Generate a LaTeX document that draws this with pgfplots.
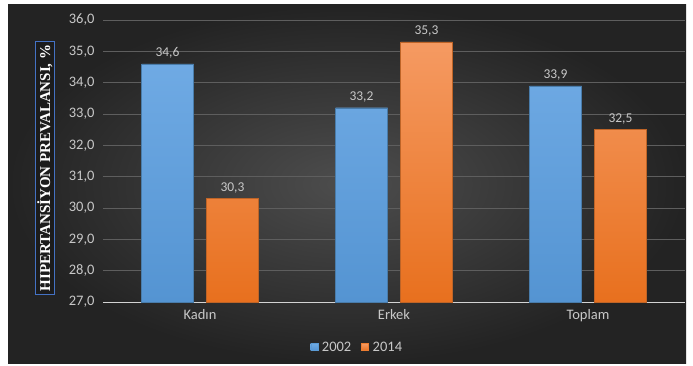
\documentclass[border=0pt]{standalone}
\usepackage{fontspec}
\setmainfont{Carlito}
\newfontfamily\serifb{Liberation Serif}
\usepackage{pgfplots}
\pgfplotsset{compat=1.18}
\definecolor{bgin}{HTML}{4D4D4D}
\definecolor{bgout}{HTML}{232323}
\definecolor{txt}{HTML}{C8C8C8}
\definecolor{gridc}{HTML}{5E5E5E}
\definecolor{bluetop}{HTML}{6FAAE4}
\definecolor{bluebot}{HTML}{5494D2}
\definecolor{orgtop}{HTML}{F59A62}
\definecolor{orgbot}{HTML}{E8701E}
\definecolor{c2002}{HTML}{5B9BD5}
\definecolor{c2014}{HTML}{ED7D31}
\definecolor{boxc}{HTML}{4472C4}
\begin{document}
\begin{tikzpicture}[x=1pt,y=1pt]
\fill[white] (0,0) rectangle (693,365);
\shade[inner color=bgin, outer color=bgout] (8,2) rectangle (686,360);
\begin{axis}[
  at={(103pt,63pt)}, anchor=south west,
  scale only axis, width=582pt, height=282pt,
  ymin=27, ymax=36, ytick={27,28,...,36},
  xmin=-0.5, xmax=2.5, xtick=data,
  xticklabels={Kadın,Erkek,Toplam},
  ybar=13pt, bar width=52pt,
  axis x line*=bottom, axis y line*=left,
  x axis line style={draw=txt!80, line width=0.8pt},
  y axis line style={draw=none},
  ymajorgrids, grid style={gridc, line width=0.6pt},
  major tick length=0pt,
  tick label style={font=\fontsize{14.5}{16}\selectfont, text=txt},
  xticklabel style={yshift=-4pt},
  /pgf/number format/.cd, use comma, fixed, fixed zerofill, precision=1, assume math mode=true,
  /pgfplots/.cd,
  yticklabel style={xshift=-5pt},
  nodes near coords,
  every node near coord/.append style={font=\fontsize{13.5}{15}\selectfont, text=txt, yshift=2pt,
    /pgf/number format/.cd, use comma, fixed, fixed zerofill, precision=1, assume math mode=true},
  ylabel={\serifb\bfseries HIPERTANSİYON PREVALANSI, \%},
  ylabel style={at={(axis description cs:-0.1,0.475)}, anchor=center, rotate=0,
    draw=boxc, line width=1pt, text=white, fill=bgout!80!black, font=\fontsize{15}{17}\selectfont, inner xsep=3pt, inner ysep=2pt},
  legend style={at={(0.437,-0.16)}, anchor=center, draw=none, fill=none,
    text=txt, font=\fontsize{14.5}{16}\selectfont, legend columns=2,
    /tikz/column 1/.style={column sep=2pt},
    /tikz/column 2/.style={column sep=8pt},
    /tikz/column 3/.style={column sep=2pt}},
  legend cell align=left,
]
\addplot[draw=c2002!80!black, line width=0.4pt, top color=bluetop, bottom color=bluebot,
  legend image code/.code={\fill[c2002] (0pt,-3.5pt) rectangle (7pt,3.5pt);}]
  coordinates {(0,34.6) (1,33.2) (2,33.9)};
\addplot[draw=c2014!80!black, line width=0.4pt, top color=orgtop, bottom color=orgbot,
  legend image code/.code={\fill[c2014] (0pt,-3.5pt) rectangle (7pt,3.5pt);}]
  coordinates {(0,30.3) (1,35.3) (2,32.5)};
\legend{2002,2014}
\end{axis}
\end{tikzpicture}
\end{document}
